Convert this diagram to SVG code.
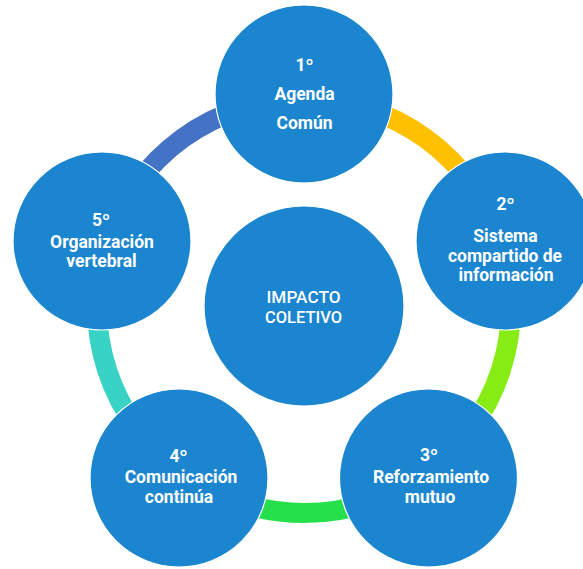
<svg xmlns="http://www.w3.org/2000/svg" width="583" height="569" viewBox="0 0 583 569">
<style>
.node{fill:#1B86CF;stroke:#ffffff;stroke-width:1.2}
.arc{fill:none;stroke-width:20}
.t{font-family:Roboto,"Liberation Sans",Arial,sans-serif;font-weight:bold;font-size:17.5px;fill:#ffffff;text-anchor:middle}
.c{font-family:Roboto,"Liberation Sans",Arial,sans-serif;font-weight:500;font-size:17px;fill:#ffffff;text-anchor:middle}
</style>
<rect width="583" height="569" fill="#ffffff"/>
<g id="connectors">
<path class="arc" stroke="#FFC000" d="M304,99 A207,207 0 0 1 500.9,242"/>
<path class="arc" stroke="#86EC14" d="M500.9,242 A207,207 0 0 1 425.7,473.5"/>
<path class="arc" stroke="#25E04A" d="M425.7,473.5 A207,207 0 0 1 182.3,473.5"/>
<path class="arc" stroke="#38D3C4" d="M182.3,473.5 A207,207 0 0 1 107.1,242"/>
<path class="arc" stroke="#4472C4" d="M107.1,242 A207,207 0 0 1 304,99"/>
</g>
<g id="center">
<circle class="node" cx="304" cy="306" r="100"/>
<text class="c" x="303.5" y="302.5" textLength="74" lengthAdjust="spacingAndGlyphs">IMPACTO</text>
<text class="c" x="303.5" y="322.5" textLength="77" lengthAdjust="spacingAndGlyphs">COLETIVO</text>
</g>
<g id="node1">
<circle class="node" cx="304" cy="94" r="89"/>
<text class="t" x="304.5" y="71">1º</text>
<text class="t" x="304.5" y="100">Agenda</text>
<text class="t" x="304.5" y="129">Común</text>
</g>
<g id="node2">
<circle class="node" cx="505" cy="241" r="89"/>
<text class="t" x="505.5" y="210">2º</text>
<text class="t" x="505.5" y="242">Sistema</text>
<text class="t" x="505" y="262">compartido de</text>
<text class="t" x="506" y="281">información</text>
</g>
<g id="node3">
<circle class="node" cx="428.5" cy="478" r="89"/>
<text class="t" x="429" y="461">3º</text>
<text class="t" x="431" y="483">Reforzamiento</text>
<text class="t" x="430" y="503">mutuo</text>
</g>
<g id="node4">
<circle class="node" cx="179" cy="478" r="89"/>
<text class="t" x="178.5" y="462">4º</text>
<text class="t" x="181" y="483">Comunicación</text>
<text class="t" x="179" y="503">continúa</text>
</g>
<g id="node5">
<circle class="node" cx="102" cy="241" r="89"/>
<text class="t" x="101" y="226">5º</text>
<text class="t" x="102" y="248">Organización</text>
<text class="t" x="101.5" y="267">vertebral</text>
</g>
</svg>
